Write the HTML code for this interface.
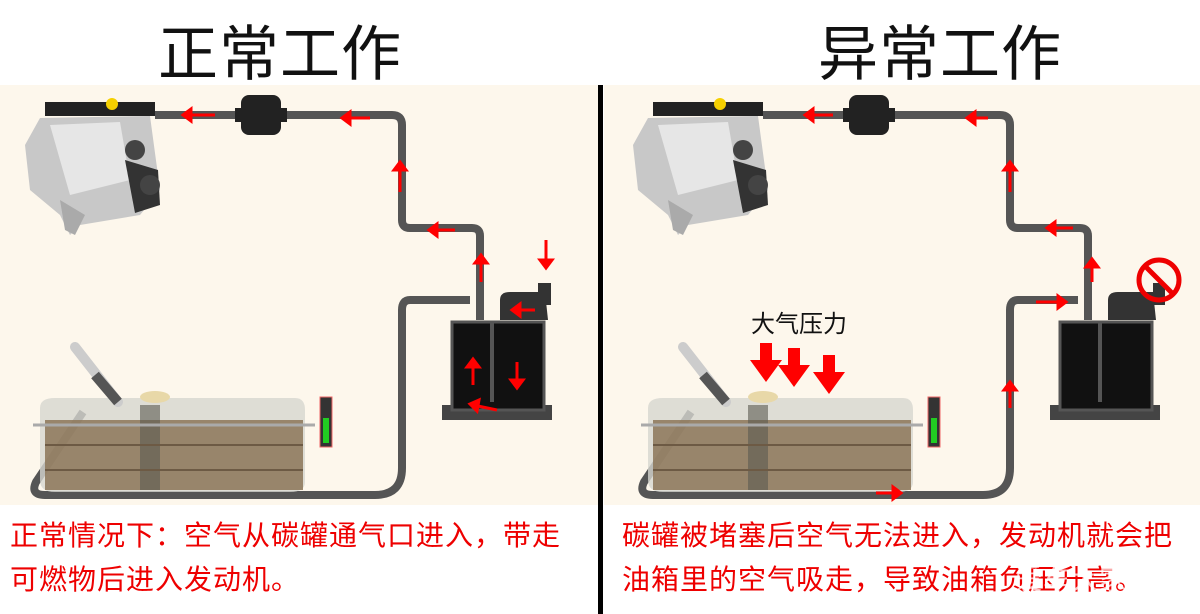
<!DOCTYPE html>
<html><head><meta charset="utf-8"><style>
body{margin:0;width:1200px;height:614px;background:#fff;overflow:hidden;font-family:"Liberation Sans","Noto Sans CJK SC",sans-serif}
.t{position:absolute;top:6px;font-size:60px;color:#111;letter-spacing:1px}
.r{position:absolute;color:#e00;font-size:28px;line-height:44px;white-space:nowrap;letter-spacing:1px}
</style></head><body>
<div class="t" style="left:158px">正常工作</div>
<div class="t" style="left:818px">异常工作</div>
<svg width="1200" height="614" style="position:absolute;left:0;top:0">
<defs>
<g id="eng">
 <rect x="45" y="102" width="110" height="14" fill="#222"/>
 <circle cx="112" cy="104" r="6" fill="#f5d000"/>
 <path d="M40 118 L150 116 L160 190 L140 215 L80 225 L70 235 L60 215 L30 190 L25 145 Z" fill="#c8c8c8"/>
 <path d="M50 125 L120 122 L130 180 L70 195 Z" fill="#e6e6e6"/>
 <path d="M125 160 L158 170 L160 205 L135 213 Z" fill="#333"/>
 <circle cx="135" cy="150" r="10" fill="#444"/><circle cx="150" cy="185" r="10" fill="#444"/>
 <path d="M60 200 L85 215 L75 235 L65 230 Z" fill="#aaa"/>
</g>
<g id="tank">
 <path d="M40 408 Q40 398 55 398 L295 398 Q305 398 305 410 L305 482 Q305 492 290 492 L55 492 Q40 492 40 480 Z" fill="#d6d6d0" opacity=".8"/>
 <rect x="45" y="420" width="258" height="70" fill="#8c7558" opacity=".85"/>
 <rect x="140" y="405" width="20" height="85" fill="#5a5a50" opacity=".6"/>
 <path d="M33 425 L315 425" stroke="#aaa" stroke-width="3"/>
 <path d="M45 445 L303 445 M45 470 L303 470" stroke="#6d5a44" stroke-width="2"/>
 <path d="M75 347 L118 402" stroke="#ccc" stroke-width="10" stroke-linecap="round"/>
 <path d="M95 375 L118 402" stroke="#555" stroke-width="10"/>
 <ellipse cx="155" cy="397" rx="15" ry="6" fill="#e8d8a8"/>
 <rect x="320" y="397" width="12" height="50" fill="#333" stroke="#e66" stroke-width="1"/>
 <rect x="323" y="418" width="6" height="25" fill="#2c2"/>
</g>
<g id="pipes" fill="none" stroke="#555" stroke-width="8" stroke-linejoin="round">
 <path d="M155 115 L392 115 Q402 115 402 125 L402 220 Q402 228 410 228 L472 228 Q480 228 480 236 L480 320"/>
 <path d="M470 300 L410 300 Q402 300 402 310 L402 468 Q402 495 375 495 L45 495 Q30 495 36 482 L83 412"/>
</g>
<g id="can">
 <path d="M442 405 L552 405 L552 420 L442 420 Z" fill="#444"/>
 <rect x="452" y="322" width="92" height="88" fill="#111" stroke="#555" stroke-width="3"/>
 <rect x="490" y="322" width="4" height="80" fill="#555"/>
 <path d="M500 300 Q500 292 510 292 L545 292 L548 320 L500 320 Z" fill="#333"/>
 <rect x="241" y="95" width="40" height="40" rx="8" fill="#222"/>
 <rect x="235" y="108" width="52" height="14" fill="#222"/>
</g>
</defs>
<rect x="0" y="85" width="598" height="420" fill="#fdf7ec"/>
<rect x="604" y="85" width="596" height="420" fill="#fdf7ec"/>
<rect x="598" y="85" width="5" height="529" fill="#000"/>
<use href="#pipes"/><use href="#eng"/><use href="#tank"/><use href="#can"/>
<rect x="538" y="283" width="13" height="22" fill="#333"/>
<g fill="#f00" stroke="#f00" stroke-width="3">
 <path d="M215 115 L185 115" /><path d="M183 115 l8 -6 v12z"/>
 <path d="M370 118 L345 118"/><path d="M342 118 l8 -6 v12z"/>
 <path d="M400 192 L400 165"/><path d="M400 162 l-6 8 h12z"/>
 <path d="M455 230 L432 230"/><path d="M429 230 l8 -6 v12z"/>
 <path d="M481 282 L481 258"/><path d="M481 255 l-6 8 h12z"/>
 <path d="M546 240 L546 262"/><path d="M546 268 l-6 -8 h12z"/>
 <path d="M535 310 L515 310"/><path d="M512 310 l8 -6 v12z"/>
 <path d="M473 385 L473 362"/><path d="M473 359 l-6 8 h12z"/>
 <path d="M517 362 L517 383"/><path d="M517 388 l-6 -8 h12z"/>
 <path d="M497 410 L473 405"/><path d="M470 404 l9 -4 l-2 11z"/>
</g>
<g transform="translate(608,0)">
<use href="#pipes"/><use href="#eng"/><use href="#tank"/><use href="#can"/>
<rect x="545" y="283" width="12" height="22" fill="#333"/>
<circle cx="551" cy="280" r="20" fill="none" stroke="#e00" stroke-width="5"/>
<path d="M537 266 L565 294" stroke="#e00" stroke-width="5"/>
<g fill="#f00" stroke="#f00" stroke-width="3">
 <path d="M225 115 L200 115"/><path d="M197 115 l8 -6 v12z"/>
 <path d="M380 118 L362 118"/><path d="M359 118 l8 -6 v12z"/>
 <path d="M402 192 L402 165"/><path d="M402 162 l-6 8 h12z"/>
 <path d="M465 228 L442 228"/><path d="M439 228 l8 -6 v12z"/>
 <path d="M484 282 L484 262"/><path d="M484 259 l-6 8 h12z"/>
 <path d="M428 302 L455 302"/><path d="M458 302 l-8 -6 v12z"/>
 <path d="M402 408 L402 385"/><path d="M402 382 l-6 8 h12z"/>
 <path d="M268 493 L290 493"/><path d="M293 493 l-8 -6 v12z"/>
</g>
<g fill="#f00">
 <path d="M152 343 h12 v17 h10 l-16 22 l-16 -22 h10z"/>
 <path d="M180 348 h12 v17 h10 l-16 22 l-16 -22 h10z"/>
 <path d="M215 355 h12 v17 h10 l-16 22 l-16 -22 h10z"/>
</g>
<text x="143" y="332" font-size="24" fill="#111" font-family="Liberation Sans,Noto Sans CJK SC,sans-serif">大气压力</text>
</g>
</svg>
<div class="r" style="left:10px;top:514px">正常情况下：空气从碳罐通气口进入，带走<br>可燃物后进入发动机。</div>
<div class="r" style="left:622px;top:514px">碳罐被堵塞后空气无法进入，发动机就会把<br>油箱里的空气吸走，导致油箱负压升高。</div>
<div style="position:absolute;left:1015px;top:558px;font-size:28px;color:rgba(255,255,255,.75)">爱车大家说</div>
</body></html>
